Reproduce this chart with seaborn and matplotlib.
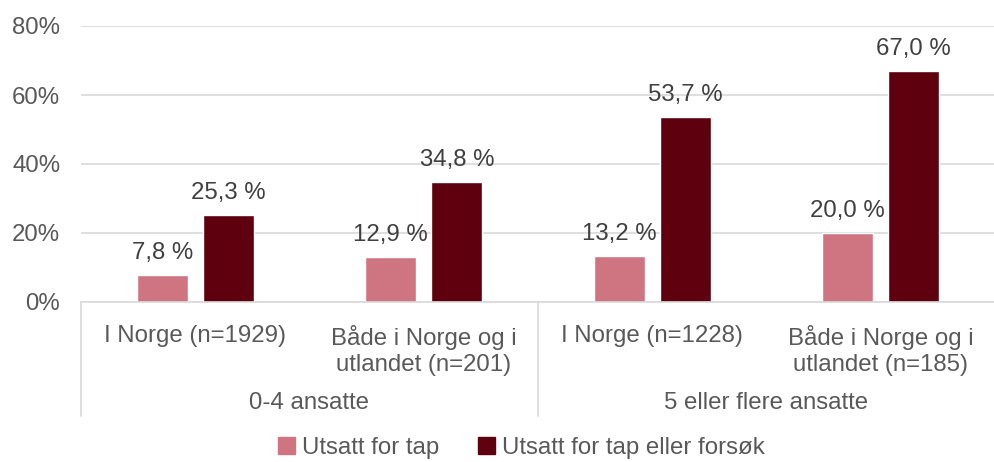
import matplotlib
matplotlib.use('Agg')
import matplotlib.pyplot as plt
import numpy as np
import pandas as pd
import seaborn as sns

# data
categories = ['I Norge (n=1929)', 'Både i Norge og i\nutlandet (n=201)',
              'I Norge (n=1228)', 'Både i Norge og i\nutlandet (n=185)']
groups = ['0-4 ansatte', '5 eller flere ansatte']
series = ['Utsatt for tap', 'Utsatt for tap eller forsøk']
tap = [7.8, 12.9, 13.2, 20.0]
tap_eller_forsok = [25.3, 34.8, 53.7, 67.0]

colors = {'Utsatt for tap': '#CF7582', 'Utsatt for tap eller forsøk': '#5E000E'}
fs = 17.3

sns.set_style('white')
plt.rcParams['font.family'] = ['Liberation Sans', 'DejaVu Sans']

df = pd.DataFrame({
    'kategori': categories * 2,
    'serie': [series[0]] * 4 + [series[1]] * 4,
    'verdi': [v / 100 for v in tap + tap_eller_forsok],
})

fig = plt.figure(figsize=(9.95, 4.62), dpi=100)
ax = fig.add_axes([81 / 995, 1 - 302 / 462, 1 - 81 / 995, (302 - 26) / 462])

sns.barplot(data=df, x='kategori', y='verdi', hue='serie', order=categories,
            hue_order=series, palette=colors, width=0.578, gap=0.227,
            saturation=1, ax=ax, legend=False)

ax.set_ylim(0, 0.8)
ax.set_xlim(-0.5, 3.5)
ax.set_yticks([0, 0.2, 0.4, 0.6, 0.8])
ax.set_yticklabels(['0%', '20%', '40%', '60%', '80%'])
ax.yaxis.grid(True, color='#D9D9D9', linewidth=1.2)
ax.set_axisbelow(True)
for s in ['top', 'right', 'left']:
    ax.spines[s].set_visible(False)
ax.spines['bottom'].set_color('#D9D9D9')
ax.spines['bottom'].set_linewidth(1.2)
ax.tick_params(axis='y', length=0, pad=15, labelsize=fs, labelcolor='#595959')
ax.tick_params(axis='x', length=0, pad=16.5, labelsize=fs, labelcolor='#595959')
ax.set_xlabel('')
ax.set_ylabel('')
for t in ax.get_xticklabels():
    t.set_linespacing(1.22)

# value labels
for cont, vals in zip(ax.containers, [tap, tap_eller_forsok]):
    ax.bar_label(cont, labels=[f'{v:.1f} %'.replace('.', ',') for v in vals],
                 padding=8, fontsize=fs, color='#404040')

# group separators and group labels below the axis
trans = ax.get_xaxis_transform()
for x in [-0.5, 1.5, 3.5]:
    ax.plot([x, x], [0, -0.413], transform=trans, color='#D9D9D9',
            linewidth=1.2, clip_on=False)
for i, g in enumerate(groups):
    ax.text(2 * i + 0.5, -0.366, g, transform=trans, ha='center', va='center',
            fontsize=fs, color='#595959')

handles = [plt.Rectangle((0, 0), 1, 1, color=colors[s]) for s in series]
fig.legend(handles, series, loc='center', bbox_to_anchor=(0.524, 0.03), ncol=2,
           frameon=False, fontsize=fs, labelcolor='#595959', handlelength=0.7,
           handleheight=0.7, handletextpad=0.3, columnspacing=1.6)

fig.savefig('out.png', dpi=100)
